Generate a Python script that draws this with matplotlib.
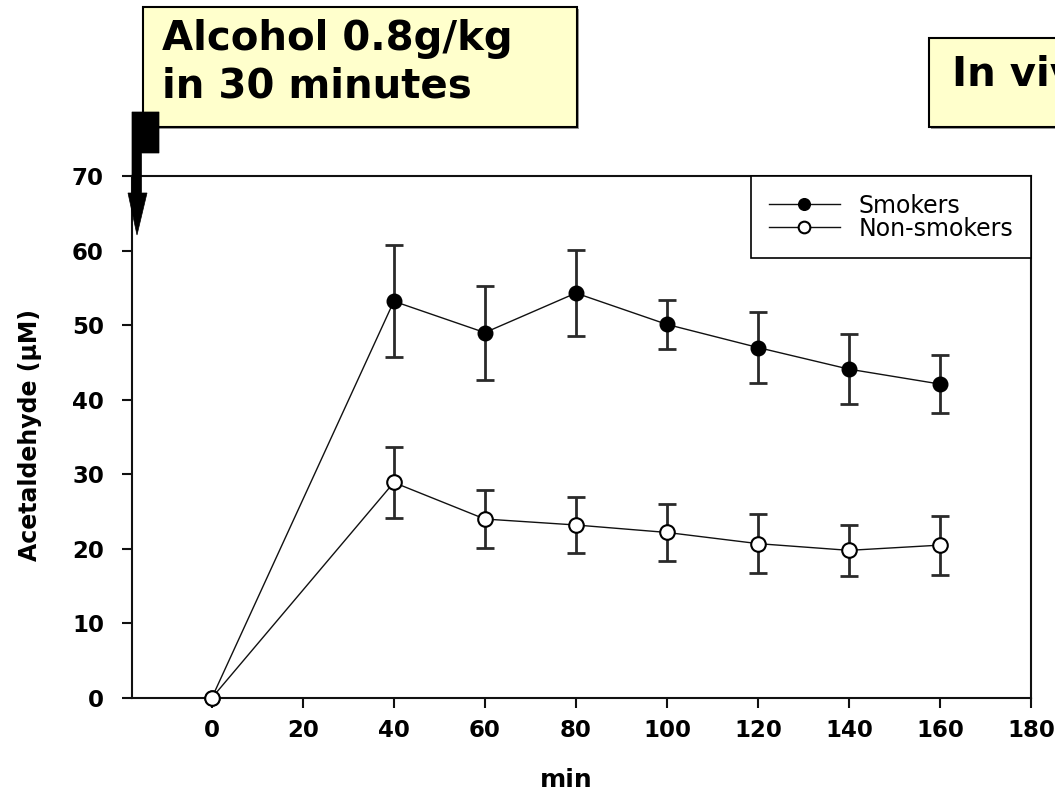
import matplotlib
matplotlib.use('Agg')
import matplotlib.pyplot as plt
from matplotlib.patches import Rectangle, Polygon

# sampling times (min) and blood acetaldehyde (uM), mean +/- SD
minutes = [0, 40, 60, 80, 100, 120, 140, 160]
smokers = [0, 53.2, 49.0, 54.3, 50.1, 47.0, 44.1, 42.1]
smokers_err = [0, 7.5, 6.3, 5.8, 3.3, 4.75, 4.7, 3.9]
nonsmokers = [0, 28.9, 24.0, 23.2, 22.2, 20.7, 19.8, 20.5]
nonsmokers_err = [0, 4.7, 3.9, 3.75, 3.8, 3.95, 3.45, 3.95]

x_ticks = [0, 20, 40, 60, 80, 100, 120, 140, 160, 180]
y_ticks = [0, 10, 20, 30, 40, 50, 60, 70]

W, H = 1055, 794
fig = plt.figure(figsize=(W / 100, H / 100), dpi=100)
fig.patch.set_facecolor('white')


def fx(px):
    return px / W


def fy(py):
    return 1 - py / H


ax = fig.add_axes([fx(131.7), fy(698), fx(1031) - fx(131.7), fy(176) - fy(698)])

err_kw = dict(fmt='none', ecolor='#2a2a2a', elinewidth=2, capsize=6.5, capthick=2, zorder=2)
ax.errorbar(minutes, smokers, yerr=smokers_err, **err_kw)
ax.errorbar(minutes, nonsmokers, yerr=nonsmokers_err, **err_kw)
ax.plot(minutes, smokers, '-o', color='#111111', lw=1, ms=10.5, mfc='black', mec='black',
        label='Smokers', zorder=3, clip_on=False)
ax.plot(minutes, nonsmokers, '-o', color='#111111', lw=1, ms=10.5, mfc='white', mec='black',
        mew=1.5, label='Non-smokers', zorder=3, clip_on=False)

ax.set_xlim(-17.6, 180)
ax.set_ylim(0, 70)
ax.set_xticks(x_ticks)
ax.set_yticks(y_ticks)
for s in ax.spines.values():
    s.set_linewidth(1.5)
    s.set_color('#111111')
ax.tick_params(direction='out', length=7, width=1.5, color='#111111')
ax.tick_params(axis='x', pad=8)
ax.tick_params(axis='y', pad=13)
for lab in ax.get_xticklabels() + ax.get_yticklabels():
    lab.set_fontsize(16.5)
    lab.set_fontweight('bold')

leg = ax.legend(loc='upper right', bbox_to_anchor=(1, 1), borderaxespad=0, fancybox=False,
                framealpha=1, edgecolor='black', fontsize=17, handlelength=3.0,
                handletextpad=0.8, labelspacing=-0.05, borderpad=0.75, markerscale=0.8)
leg.get_frame().set_linewidth(1.2)

fig.text(fx(30), fy(435), 'Acetaldehyde (\u00b5M)', rotation=90, ha='center', va='center',
         fontsize=17, fontweight='bold')
fig.text(fx(566), fy(780), 'min', ha='center', va='center', fontsize=18, fontweight='bold')

# callout boxes
for x0, y0, x1, y1 in [(143, 7, 577, 127), (929, 38, 1100, 127)]:
    fig.patches.append(Rectangle((fx(x0 + 2), fy(y1 + 2)), fx(x1) - fx(x0), fy(y0) - fy(y1),
                                 transform=fig.transFigure, facecolor='#9a9a9a',
                                 edgecolor='none', zorder=0))
    fig.patches.append(Rectangle((fx(x0), fy(y1)), fx(x1) - fx(x0), fy(y0) - fy(y1),
                                 transform=fig.transFigure, facecolor='#ffffcc',
                                 edgecolor='black', lw=1.5, zorder=1))
fig.text(fx(162), fy(50), 'Alcohol 0.8g/kg', fontsize=29, fontweight='bold', va='baseline')
fig.text(fx(162), fy(97), 'in 30 minutes', fontsize=29, fontweight='bold', va='baseline')
fig.text(fx(952), fy(86), 'In vivo', fontsize=29, fontweight='bold', va='baseline')

# bent arrow marking the start of drinking
arrow_px = [(132, 112), (159, 112), (159, 153), (141.5, 153), (141.5, 193), (147, 193),
            (137, 235), (128, 193), (132, 193)]
fig.patches.append(Polygon([(fx(a), fy(b)) for a, b in arrow_px], closed=True,
                           transform=fig.transFigure, facecolor='black', edgecolor='black',
                           lw=0.5, zorder=5))

fig.savefig('out.png', dpi=100)
